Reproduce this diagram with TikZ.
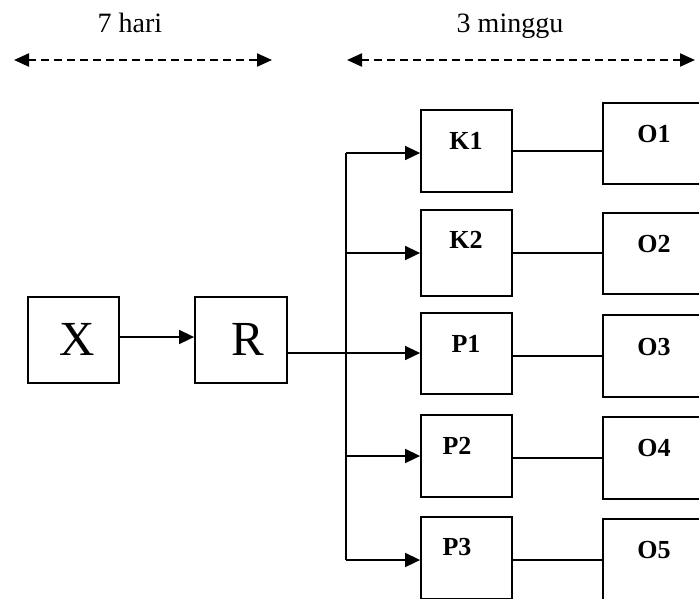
\documentclass[tikz,border=0pt]{standalone}
\usepackage{fontspec}
\setmainfont{Liberation Serif}
\usetikzlibrary{arrows.meta}
\begin{document}
\begin{tikzpicture}[x=1pt,y=-1pt,
  box/.style={draw,line width=1.8pt,inner sep=0pt},
  lbl/.style={anchor=base,inner sep=0pt,font=\fontsize{26}{28}\selectfont\bfseries},
  big/.style={anchor=base,inner sep=0pt,font=\fontsize{49}{52}\selectfont},
  span/.style={anchor=base,inner sep=0pt,font=\fontsize{28}{30}\selectfont},
  link/.style={line width=1.7pt},
  feed/.style={line width=1.7pt,-{Triangle[length=15pt,width=14pt]}},
  period/.style={line width=2.2pt,dash pattern=on 8pt off 5pt,
    {Triangle[length=15pt,width=13pt]}-{Triangle[length=15pt,width=13pt]}}]
\useasboundingbox (0,0) rectangle (699,598);
\clip (0,0) rectangle (699,598);

% time spans
\node[span] (t1) at (130,32) {7 hari};
\node[span] (t2) at (510,32) {3 minggu};
\coordinate (a1) at (14,60);
\coordinate (b1) at (272,60);
\coordinate (a2) at (347,60);
\coordinate (b2) at (695,60);
\draw[period] (a1) -- (b1);
\draw[period] (a2) -- (b2);

% boxes
\node[box,minimum width=91pt,minimum height=86pt] (X) at (73.5,340) {};
\node[box,minimum width=92pt,minimum height=86pt] (R) at (241,340) {};
\node[box,minimum width=91pt,minimum height=82pt] (K1) at (466.5,151) {};
\node[box,minimum width=91pt,minimum height=86pt] (K2) at (466.5,253) {};
\node[box,minimum width=91pt,minimum height=81pt] (P1) at (466.5,353.5) {};
\node[box,minimum width=91pt,minimum height=82pt] (P2) at (466.5,456) {};
\node[box,minimum width=91pt,minimum height=82pt] (P3) at (466.5,558) {};
\node[box,minimum width=100pt,minimum height=81pt] (O1) at (653,143.5) {};
\node[box,minimum width=100pt,minimum height=81pt] (O2) at (653,253.5) {};
\node[box,minimum width=100pt,minimum height=82pt] (O3) at (653,356) {};
\node[box,minimum width=100pt,minimum height=82pt] (O4) at (653,458) {};
\node[box,minimum width=100pt,minimum height=82pt] (O5) at (653,560) {};

% box texts
\node[big] (xt) at (77.5,355) {X};
\node[big] (rt) at (248,355) {R};
\node[lbl] (k1t) at (466,149) {K1};
\node[lbl] (k2t) at (466,248) {K2};
\node[lbl] (p1t) at (466,352) {P1};
\node[lbl] (p2t) at (457,454) {P2};
\node[lbl] (p3t) at (457,555) {P3};
\node[lbl] (o1t) at (654,142) {O1};
\node[lbl] (o2t) at (654,252) {O2};
\node[lbl] (o3t) at (654,355) {O3};
\node[lbl] (o4t) at (654,456) {O4};
\node[lbl] (o5t) at (654,558) {O5};

% X to R (yshift is measured upwards)
\draw[feed] ([yshift=3pt]X.east) -- ([yshift=3pt]R.west);

% R fans out to the five groups
\coordinate (ttop) at (346,153);
\coordinate (tbot) at (346,560);
\draw[link] (ttop) -- (tbot);
\draw[feed] ([yshift=-13pt]R.east) -- (P1.west |- 0,353);
\draw[feed] (ttop) -- (K1.west |- ttop);
\draw[feed] (346,253) -- (K2.west |- 0,253);
\draw[feed] (346,456) -- (P2.west);
\draw[feed] (tbot) -- (P3.west |- tbot);

% groups to outcomes
\draw[link] (K1.east) -- (O1.west |- K1.east);
\draw[link] (K2.east) -- (O2.west |- K2.east);
\draw[link] ([yshift=-2.5pt]P1.east) -- (O3.west);
\draw[link] ([yshift=-2pt]P2.east) -- (O4.west);
\draw[link] ([yshift=-2pt]P3.east) -- (O5.west);
\end{tikzpicture}
\end{document}
